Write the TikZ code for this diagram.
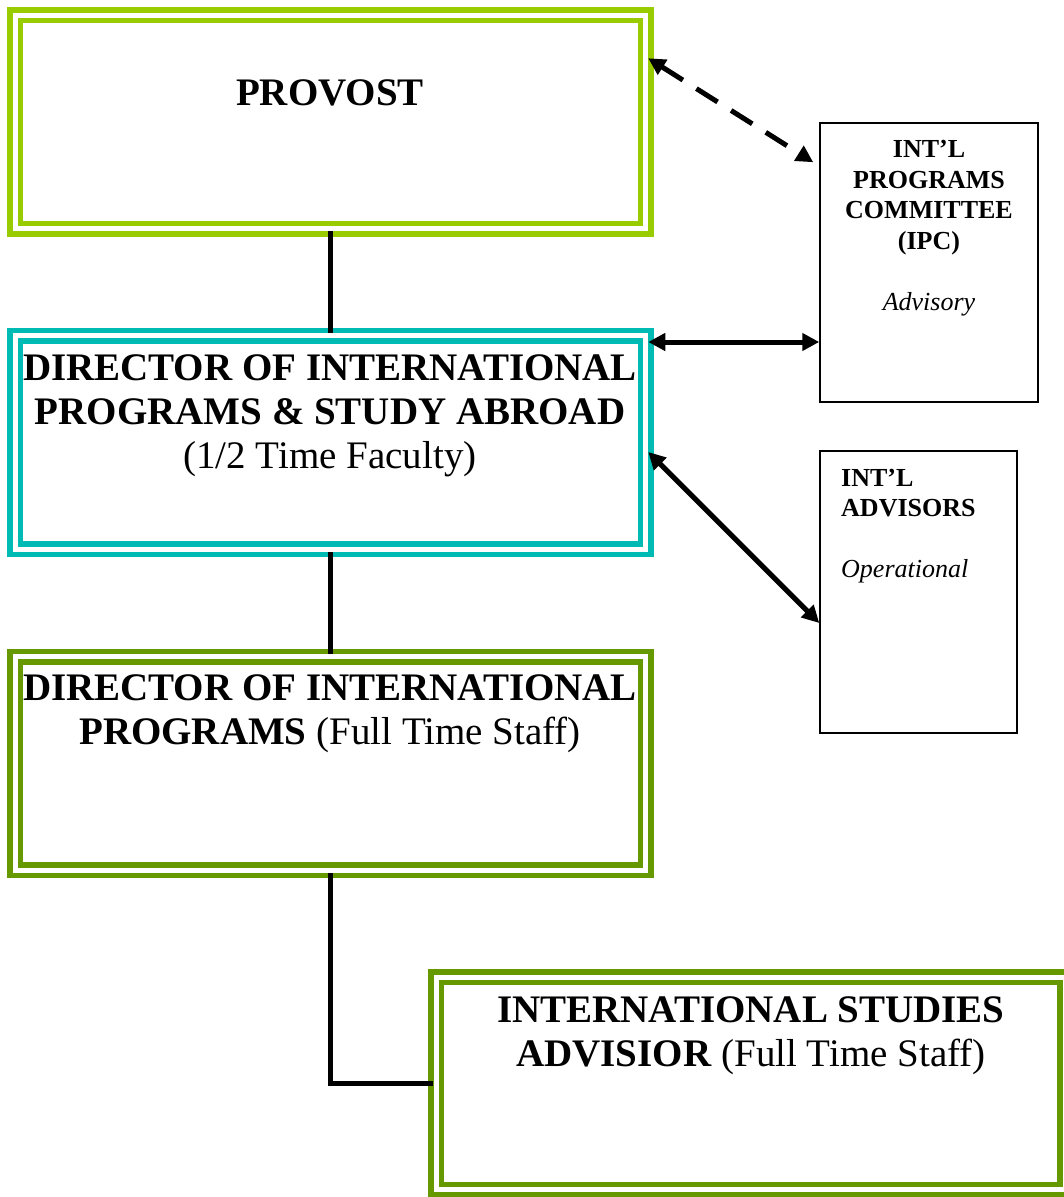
\documentclass[tikz,border=0pt]{standalone}
\usepackage{fontspec}
\setmainfont{Liberation Serif}
\usetikzlibrary{arrows.meta}
\definecolor{provgreen}{HTML}{99CC00}
\definecolor{dirteal}{HTML}{00BAB4}
\definecolor{staffgreen}{HTML}{669900}

\begin{document}
\begin{tikzpicture}[x=1pt, y=-1pt,
    khung/.style={draw=#1, line width=5.5pt, double=white, double distance=5pt,
        minimum width=630.5pt, minimum height=213.5pt, inner sep=0pt},
    hop/.style={draw=black, line width=1.5pt, inner sep=0pt},
    tieude/.style={anchor=base, align=center, inner sep=0pt,
        font=\fontsize{39}{44}\selectfont\bfseries},
    nhohon/.style={anchor=base, inner sep=0pt,
        font=\fontsize{26}{30.5}\selectfont\bfseries},
    noi/.style={line width=5pt},
    haichieu/.style={line width=5pt,
        {Triangle[length=17pt,width=17pt]}-{Triangle[length=17pt,width=17pt]}}
]
    % Khung trang (toa do tinh theo diem anh, truc y huong xuong)
    \useasboundingbox (0,0) rectangle (1064,1197);

    % Cac khung vien doi
    \node[khung=provgreen] (prov) at (330.25,121.75) {};
    \node[khung=dirteal] (dirhalf) at (330.25,442.5) {};
    \node[khung=staffgreen] (dirfull) at (330.25,763.5) {};
    \node[khung=staffgreen, minimum width=629pt, minimum height=212.5pt] (isa) at (750.5,1083.25) {};

    % Hai hop ben phai
    \node[hop, minimum width=218pt, minimum height=279pt] (ipc) at (929,262.5) {};
    \node[hop, minimum width=197pt, minimum height=282pt] (advs) at (918.5,592) {};

    % Chu trong cac khung (moc la duong chan cua dong cuoi)
    \node[tieude] (provt) at (330,105) {PROVOST};
    \node[tieude] (dirhalft) at (330,468) {DIRECTOR OF INTERNATIONAL\\PROGRAMS \& STUDY ABROAD\\\textmd{(1/2 Time Faculty)}};
    \node[tieude] (dirfullt) at (330,744) {DIRECTOR OF INTERNATIONAL\\PROGRAMS \textmd{(Full Time Staff)}};
    \node[tieude] (isat) at (751,1066) {INTERNATIONAL STUDIES\\ADVISIOR \textmd{(Full Time Staff)}};
    \node[nhohon, align=center] (ipct) at (929,310) {INT'L\\PROGRAMS\\COMMITTEE\\(IPC)\\[30.5pt]\textmd{\textit{Advisory}}};
    \node[nhohon, anchor=base west, align=left] (advst) at (841,577) {INT'L\\ADVISORS\\[30pt]\textmd{\textit{Operational}}};

    % Duong noi cap bac
    \draw[noi] (prov.south) -- (dirhalf.north);
    \draw[noi] (dirhalf.south) -- (dirfull.north);
    \draw[noi] (dirfull.south) |- (isa.west);

    % Mui ten hai chieu
    \draw[haichieu, dash pattern=on 25pt off 16pt] ([yshift=-46pt]prov.north east) -- ([xshift=-6pt,yshift=-40pt]ipc.north west);
    \draw[haichieu] ([yshift=-9pt]dirhalf.north east) -- ([yshift=-9pt]dirhalf.north east -| ipc.west);
    \draw[haichieu] ([yshift=-9.5pt]dirhalf.east) -- ([yshift=-31pt]advs.west);

\end{tikzpicture}
\end{document}
